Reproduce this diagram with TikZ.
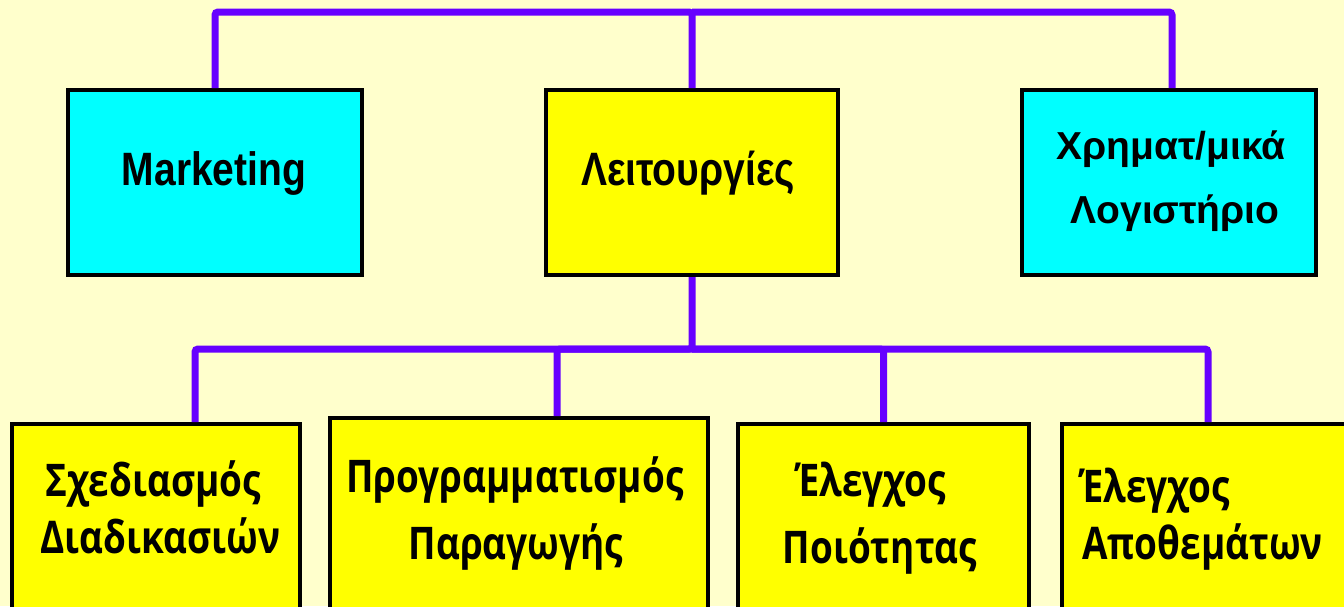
\documentclass[tikz,border=0pt]{standalone}
\usepackage{fontspec}
\setmainfont{Liberation Sans}
\newfontfamily\bottomfont{Open Sans}[FakeStretch=0.82]
\usetikzlibrary{positioning}
\definecolor{bgyellow}{HTML}{FFFFCC}
\definecolor{boxcyan}{HTML}{00FFFF}
\definecolor{boxyellow}{HTML}{FFFF00}
\definecolor{linkpurple}{HTML}{6600FF}
\tikzset{
  box/.style={draw=black, line width=4pt, rectangle, inner sep=0pt},
  cyanbox/.style={box, fill=boxcyan},
  yelbox/.style={box, fill=boxyellow},
  link/.style={draw=linkpurple, line width=7pt, rounded corners=3pt, line cap=butt},
  toptext/.style={font=\fontsize{39}{45}\selectfont\bfseries, anchor=base, inner sep=0pt},
  bottext/.style={font=\bottomfont\fontsize{45}{50}\selectfont\bfseries, anchor=base, inner sep=0pt},
}
\begin{document}
\begin{tikzpicture}[x=1pt,y=-1pt]
\clip (0,0) rectangle (1344,606);
\fill[bgyellow] (0,0) rectangle (1344,606);
% top row boxes
\node[cyanbox, minimum width=294pt, minimum height=185pt] (mkt) at (215,182.5) {};
\node[yelbox, minimum width=292pt, minimum height=185pt] (lei) at (692,182.5) {};
\node[cyanbox, minimum width=294pt, minimum height=185pt] (fin) at (1169,182.5) {};
% bottom row boxes
\node[yelbox, minimum width=288pt, minimum height=200pt] (sxe) at (156,524) {};
\node[yelbox, minimum width=378pt, minimum height=210pt] (pro) at (519,523) {};
\node[yelbox, minimum width=291pt, minimum height=200pt] (poi) at (883.5,524) {};
\node[yelbox, minimum width=300pt, minimum height=200pt] (apo) at (1212,524) {};
% connectors
\coordinate (top) at (692,12);
\draw[link] (lei.north) -- (top) -| (mkt.north);
\draw[link] (top) -| ([xshift=3pt]fin.north);
\coordinate (mid) at (692,349);
\draw[link] (lei.south) -- (mid) -| ([xshift=39pt]sxe.north);
\draw[link] (mid) -| ([xshift=38pt]pro.north);
\draw[link] (mid) -| (poi.north);
\draw[link] (mid) -| ([xshift=-4pt]apo.north);
% texts
\node[toptext] (tmkt) at (214,185) {\scalebox{1}[1.2]{Marketing}};
\node[toptext] (tlei) at (688,185) {\scalebox{1}[1.2]{Λειτουργίες}};
\node[toptext] (tfina) at (1171,159) {Χρηματ/μικά};
\node[toptext] (tfinb) at (1175,223) {Λογιστήριο};
\node[bottext] (tsxea) at (153,496) {Σχεδιασμός};
\node[bottext] (tsxeb) at (160,553) {Διαδικασιών};
\node[bottext] (tproa) at (515,492) {Προγραμματισμός};
\node[bottext] (tprob) at (516,559) {Παραγωγής};
\node[bottext] (tpoia) at (871,496) {Έλεγχος};
\node[bottext] (tpoib) at (880,563) {Ποιότητας};
\node[bottext, anchor=base west] (tapoa) at (1080,502) {Έλεγχος};
\node[bottext, anchor=base west] (tapob) at (1082,559) {Αποθεμάτων};
\end{tikzpicture}
\end{document}
